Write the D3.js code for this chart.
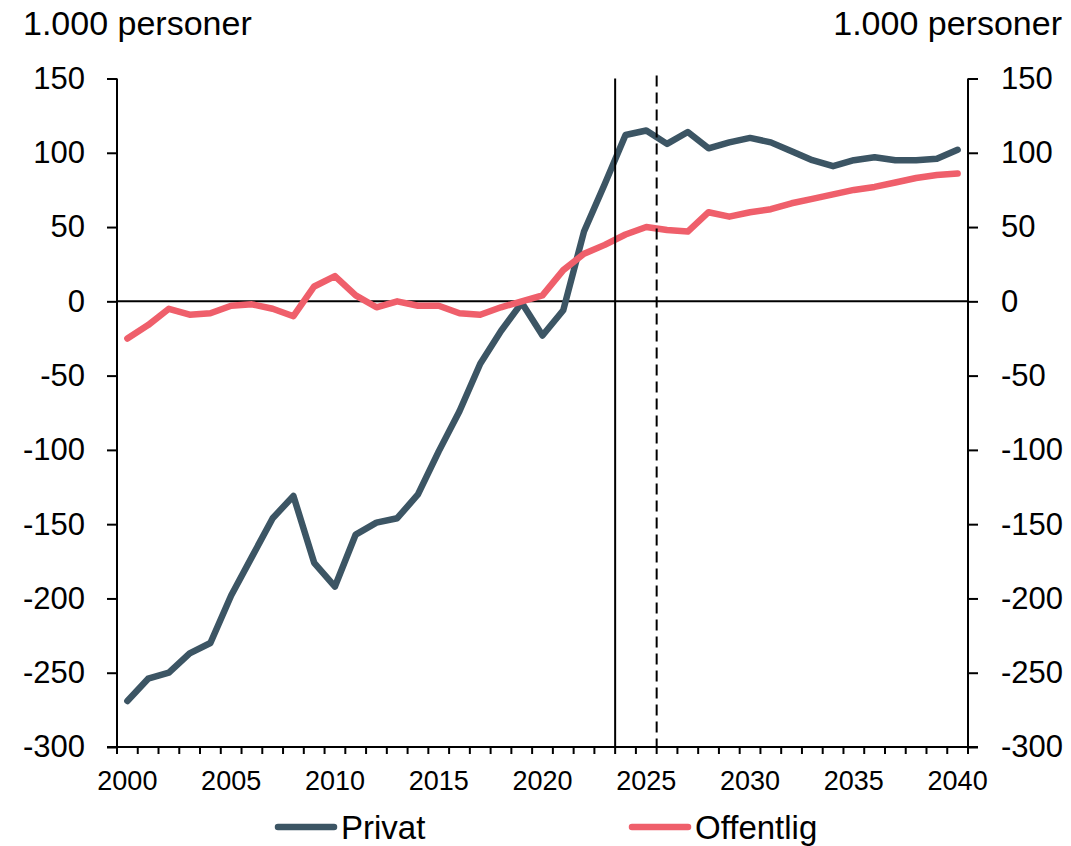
<!DOCTYPE html>
<html>
<head>
<meta charset="utf-8">
<script src="https://cdn.jsdelivr.net/npm/d3@7"></script>
<style>
  html, body { margin: 0; padding: 0; background: #fff; }
  svg { display: block; font-family: "Liberation Sans", Arial, sans-serif; }
</style>
</head>
<body>
<div id="chart"></div>
<script>
// data
const years = d3.range(2000, 2041);
const privat = [-269, -254, -250, -237, -230, -198, -172, -146, -131, -176, -192, -157, -149,
  -146, -130, -101, -74, -42, -20, -1, -23, -6, 47, 79, 112, 115,
  106, 114, 103, 107, 110, 107, 101, 95, 91, 95, 97, 95, 95, 96, 102];
const offentlig = [-25, -16, -5, -9, -8, -3, -2, -5, -10, 10, 17, 4, -4,
  0, -3, -3, -8, -9, -4, 0, 4, 21, 32, 38, 45, 50,
  48, 47, 60, 57, 60, 62, 66, 69, 72, 75, 77, 80, 83, 85, 86];
const yTicks = [-300, -250, -200, -150, -100, -50, 0, 50, 100, 150];
const xLabels = [2000, 2005, 2010, 2015, 2020, 2025, 2030, 2035, 2040];
const unitLabel = '1.000 personer';
const series = [
  { name: 'Privat', values: privat, color: '#3c5564' },
  { name: 'Offentlig', values: offentlig, color: '#ef5f6b' }
];
const solidLineYear = 2024;   // start of year
const dashedLineYear = 2026;

const width = 1071, height = 846;
const plotLeft = 117, plotRight = 968, plotTop = 78.5, plotBottom = 747;

const svg = d3.select('#chart').append('svg')
  .attr('width', width)
  .attr('height', height);

svg.append('rect').attr('width', width).attr('height', height).attr('fill', '#fff');

const x = d3.scaleBand().domain(years).range([plotLeft, plotRight]);
const y = d3.scaleLinear().domain([-300, 150]).range([plotBottom, plotTop]);
const cx = d => x(d) + x.bandwidth() / 2;

// zero line
svg.append('line')
  .attr('x1', plotLeft).attr('x2', plotRight)
  .attr('y1', y(0)).attr('y2', y(0))
  .attr('stroke', '#000').attr('stroke-width', 2);

// series
const line = d3.line()
  .x((d, i) => cx(years[i]))
  .y(d => y(d));

svg.append('g').selectAll('path')
  .data(series)
  .enter().append('path')
  .attr('d', d => line(d.values))
  .attr('fill', 'none')
  .attr('stroke', d => d.color)
  .attr('stroke-width', 6.5)
  .attr('stroke-linejoin', 'round')
  .attr('stroke-linecap', 'round');

// vertical markers
svg.append('line')
  .attr('x1', x(solidLineYear)).attr('x2', x(solidLineYear))
  .attr('y1', plotTop).attr('y2', plotBottom)
  .attr('stroke', '#000').attr('stroke-width', 2);

svg.append('line')
  .attr('x1', x(dashedLineYear)).attr('x2', x(dashedLineYear))
  .attr('y1', plotTop - 3).attr('y2', plotBottom)
  .attr('stroke', '#000').attr('stroke-width', 2)
  .attr('stroke-dasharray', '11,6');

// left and right axes
const axisL = svg.append('g').attr('transform', `translate(${plotLeft},0)`)
  .call(d3.axisLeft(y).tickValues(yTicks).tickSize(10).tickPadding(22));
const axisR = svg.append('g').attr('transform', `translate(${plotRight},0)`)
  .call(d3.axisRight(y).tickValues(yTicks).tickSize(10).tickPadding(23));

[axisL, axisR].forEach(a => {
  a.select('.domain').attr('stroke', '#000').attr('stroke-width', 2).attr('d', `M0,${plotTop}V${plotBottom}`);
  a.selectAll('.tick line').attr('stroke', '#000').attr('stroke-width', 2);
  a.selectAll('.tick text')
    .attr('font-size', 31)
    .attr('fill', '#000')
    .style('font-family', '"Liberation Sans", Arial, sans-serif')
    .text(d => d < 0 ? '-' + Math.abs(d) : d);
});

// bottom axis
const gx = svg.append('g');
gx.append('line')
  .attr('x1', plotLeft - 10).attr('x2', plotRight + 10)
  .attr('y1', plotBottom).attr('y2', plotBottom)
  .attr('stroke', '#000').attr('stroke-width', 2);

const bounds = years.map(d => x(d)).concat([plotRight]);
gx.selectAll('line.minor')
  .data(bounds)
  .enter().append('line')
  .attr('class', 'minor')
  .attr('x1', d => d).attr('x2', d => d)
  .attr('y1', plotBottom).attr('y2', plotBottom + 7)
  .attr('stroke', '#000').attr('stroke-width', 2);

gx.selectAll('text')
  .data(xLabels)
  .enter().append('text')
  .attr('x', d => cx(d))
  .attr('y', 790)
  .attr('text-anchor', 'middle')
  .attr('font-size', 27)
  .text(d => d);

// unit labels
svg.append('text')
  .attr('x', 23).attr('y', 35)
  .attr('font-size', 34)
  .text(unitLabel);
svg.append('text')
  .attr('x', 1062).attr('y', 35)
  .attr('text-anchor', 'end')
  .attr('font-size', 34)
  .text(unitLabel);

// legend
const legendPos = [278, 632];
const lg = svg.append('g').selectAll('g')
  .data(series)
  .enter().append('g')
  .attr('transform', (d, i) => `translate(${legendPos[i]},827)`);

lg.append('line')
  .attr('x1', 0).attr('x2', 56)
  .attr('stroke', d => d.color)
  .attr('stroke-width', 6.5)
  .attr('stroke-linecap', 'round');

lg.append('text')
  .attr('x', 63)
  .attr('y', 12)
  .attr('font-size', 33)
  .text(d => d.name);
</script>
</body>
</html>
